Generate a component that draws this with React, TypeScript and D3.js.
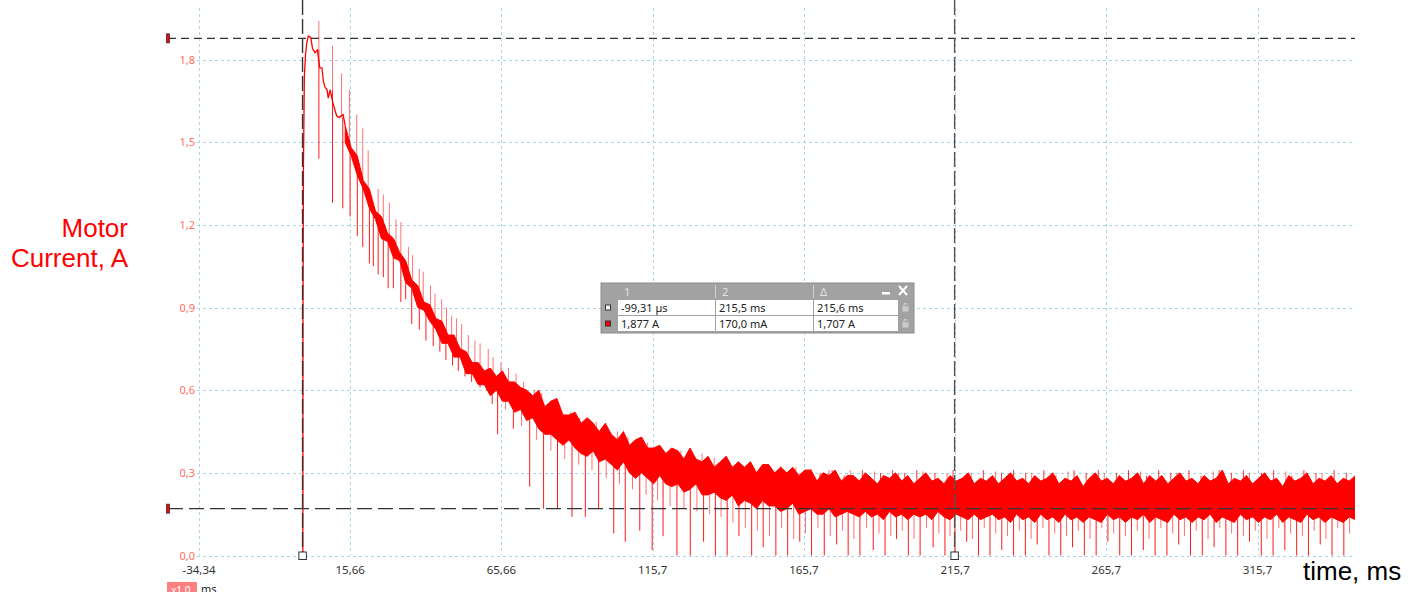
import React from 'react';
import * as d3 from 'd3';

// axes
const timeDomain: [number, number] = [-34.34, 346.9];
const currentDomain: [number, number] = [0, 1.987];
const xTicks = [-34.34, 15.66, 65.66, 115.66, 165.66, 215.66, 265.66, 315.66];
const xTickLabels = ['-34,34', '15,66', '65,66', '115,7', '165,7', '215,7', '265,7', '315,7'];
const yTicks = [0, 0.3, 0.6, 0.9, 1.2, 1.5, 1.8];
const yTickLabels = ['0,0', '0,3', '0,6', '0,9', '1,2', '1,5', '1,8'];

// cursors (time in ms, current in A)
const cursorTimes = [-0.09931, 215.5];
const cursorCurrents = [1.877, 0.17];

// start-up of the motor, [ms, A]
const onset: [number, number][] = [
  [0, 0], [0.05, 0.9], [0.2, 1.42], [0.5, 1.74], [0.9, 1.82], [1.3, 1.86], [1.8, 1.885],
  [2.6, 1.88], [3.2, 1.84], [4.0, 1.825], [4.8, 1.835], [5.6, 1.77], [6.3, 1.77], [6.8, 1.72],
  [7.3, 1.7], [8.0, 1.69], [8.4, 1.66], [9.0, 1.69], [10.0, 1.64], [11.2, 1.595], [12.0, 1.59],
  [13.3, 1.6], [14.0, 1.56],
];

// dense noise band, one sample every 2 ms from 14 ms
const bandStartMs = 14;
const bandStepMs = 2;
const bandHi = [
  1.56, 1.48, 1.45, 1.36, 1.33, 1.25, 1.23, 1.17, 1.15, 1.10,
  1.07, 1.00, 0.98, 0.92, 0.91, 0.86, 0.85, 0.80, 0.80, 0.75,
  0.74, 0.70, 0.70, 0.67, 0.68, 0.65, 0.67, 0.63, 0.63, 0.61,
  0.60, 0.58, 0.60, 0.54, 0.56, 0.57, 0.51, 0.51, 0.52, 0.48,
  0.50, 0.48, 0.45, 0.48, 0.44, 0.42, 0.45, 0.40, 0.42, 0.43,
  0.39, 0.39, 0.40, 0.37, 0.39, 0.38, 0.35, 0.39, 0.35, 0.34,
  0.36, 0.32, 0.34, 0.36, 0.32, 0.34, 0.32, 0.34, 0.30, 0.33,
  0.33, 0.30, 0.32, 0.30, 0.32, 0.29, 0.31, 0.31, 0.27, 0.30,
  0.29, 0.31, 0.27, 0.29, 0.29, 0.27, 0.30, 0.28, 0.26, 0.29,
  0.28, 0.30, 0.27, 0.29, 0.26, 0.28, 0.30, 0.27, 0.28, 0.26,
  0.29, 0.27, 0.28, 0.30, 0.26, 0.28, 0.27, 0.29, 0.26, 0.28,
  0.30, 0.27, 0.28, 0.26, 0.29, 0.27, 0.28, 0.30, 0.26, 0.28,
  0.27, 0.29, 0.25, 0.28, 0.30, 0.27, 0.28, 0.26, 0.29, 0.27,
  0.28, 0.30, 0.26, 0.29, 0.27, 0.29, 0.26, 0.28, 0.30, 0.27,
  0.28, 0.26, 0.29, 0.27, 0.28, 0.31, 0.26, 0.28, 0.27, 0.29,
  0.26, 0.28, 0.30, 0.27, 0.28, 0.25, 0.29, 0.27, 0.28, 0.30,
  0.26, 0.28, 0.27, 0.29, 0.26, 0.28, 0.27, 0.29,
];
const bandLo = [
  1.50, 1.45, 1.38, 1.33, 1.26, 1.22, 1.15, 1.14, 1.08, 1.07,
  0.99, 0.97, 0.90, 0.89, 0.85, 0.82, 0.77, 0.77, 0.72, 0.72,
  0.66, 0.66, 0.62, 0.62, 0.58, 0.60, 0.56, 0.56, 0.52, 0.53,
  0.49, 0.50, 0.46, 0.44, 0.44, 0.42, 0.40, 0.42, 0.39, 0.37,
  0.36, 0.38, 0.34, 0.35, 0.33, 0.31, 0.34, 0.30, 0.28, 0.30,
  0.28, 0.26, 0.29, 0.26, 0.25, 0.26, 0.23, 0.24, 0.26, 0.22,
  0.22, 0.23, 0.21, 0.20, 0.22, 0.18, 0.20, 0.19, 0.17, 0.20,
  0.18, 0.18, 0.16, 0.17, 0.19, 0.15, 0.16, 0.17, 0.15, 0.15,
  0.17, 0.14, 0.15, 0.16, 0.15, 0.14, 0.16, 0.14, 0.15, 0.13,
  0.16, 0.14, 0.15, 0.13, 0.15, 0.14, 0.15, 0.13, 0.16, 0.14,
  0.13, 0.15, 0.14, 0.13, 0.15, 0.13, 0.14, 0.15, 0.13, 0.14,
  0.12, 0.15, 0.13, 0.14, 0.12, 0.15, 0.13, 0.14, 0.12, 0.15,
  0.13, 0.14, 0.12, 0.14, 0.13, 0.12, 0.15, 0.13, 0.14, 0.12,
  0.14, 0.13, 0.15, 0.12, 0.14, 0.13, 0.12, 0.15, 0.13, 0.14,
  0.12, 0.14, 0.13, 0.15, 0.12, 0.14, 0.13, 0.12, 0.15, 0.13,
  0.14, 0.12, 0.14, 0.13, 0.15, 0.12, 0.14, 0.13, 0.12, 0.15,
  0.13, 0.14, 0.12, 0.14, 0.13, 0.12, 0.14, 0.13,
];

// upward spikes [ms, A]
const spikes: [number, number][] = [
  [5.3, 1.94], [9.8, 1.85], [12.8, 1.75], [15.4, 1.69], [17.8, 1.6], [19.8, 1.55], [21.6, 1.47],
  [24.9, 1.33], [26.6, 1.31], [28.6, 1.28], [30.8, 1.22], [32.4, 1.21], [34.9, 1.12], [36.3, 1.09],
  [38.5, 1.04], [39.8, 1.03], [42.2, 0.98], [43.7, 0.95], [45.9, 0.93], [47.5, 0.9], [49.2, 0.87],
  [50.8, 0.86], [52.5, 0.84], [54.7, 0.8], [56.9, 0.78], [58.6, 0.77], [61.3, 0.75], [62.9, 0.72],
  [65.5, 0.7], [68.0, 0.68], [70.5, 0.66], [73.0, 0.63], [76.5, 0.6], [79.0, 0.59], [82.0, 0.56],
  [85.0, 0.54], [88.5, 0.52], [91.5, 0.5], [94.5, 0.49], [97.0, 0.485], [100.5, 0.47], [104.0, 0.45],
  [107.5, 0.43], [111.0, 0.42], [114.0, 0.41], [118.0, 0.4], [121.5, 0.39], [125.0, 0.38],
  [128.5, 0.37], [132.0, 0.37], [136.0, 0.355], [140.0, 0.345], [144.0, 0.34], [148.0, 0.335],
  [153.0, 0.33], [158.0, 0.325], [163.0, 0.32], [168.0, 0.315], [174.0, 0.31], [181.0, 0.31],
  [189.0, 0.305], [197.0, 0.3], [205.0, 0.305], [213.0, 0.3], [221.0, 0.3], [229.0, 0.305],
  [241.0, 0.3], [253.0, 0.305], [265.0, 0.3], [277.0, 0.305], [289.0, 0.3], [301.0, 0.305],
  [313.0, 0.3], [325.0, 0.305], [337.0, 0.3],
];

// smaller upward ticks on the top of the steady band [ms, A]
const minorSpikes: [number, number][] = [
  [151, 0.31], [155, 0.3], [161, 0.31], [165, 0.3], [171, 0.3], [175, 0.31], [179, 0.29],
  [185, 0.31], [191, 0.3], [195, 0.31], [199, 0.3], [203, 0.31], [209, 0.3], [215, 0.31],
  [219, 0.29], [225, 0.31], [231, 0.3], [235, 0.31], [239, 0.3], [245, 0.31], [249, 0.29],
  [255, 0.31], [259, 0.3], [263, 0.31], [269, 0.3], [273, 0.31], [279, 0.29], [283, 0.31],
  [287, 0.3], [293, 0.31], [297, 0.29], [303, 0.31], [307, 0.3], [311, 0.31], [317, 0.3],
  [321, 0.31], [327, 0.29], [331, 0.31], [335, 0.3], [341, 0.31], [345, 0.3],
];

// deep commutation dips [ms, A]
const dips: [number, number][] = [
  [5.3, 1.44], [9.8, 1.28], [13.2, 1.26], [15.6, 1.23], [18.0, 1.16], [19.8, 1.12], [22.0, 1.06],
  [23.3, 1.05], [24.9, 1.02], [26.6, 1.01], [28.2, 0.97], [29.9, 0.97], [32.4, 0.92], [34.0, 0.93],
  [36.0, 0.84], [38.5, 0.82], [40.7, 0.78], [43.1, 0.76], [45.3, 0.74], [47.3, 0.71], [49.5, 0.69],
  [51.4, 0.67], [53.6, 0.65], [55.8, 0.63], [58.6, 0.61], [60.8, 0.6], [62.6, 0.55], [64.4, 0.44],
  [69.6, 0.46], [75.0, 0.25], [79.6, 0.17], [84.2, 0.17], [89.0, 0.14], [93.4, 0.14], [97.8, 0.17],
  [102.8, 0.08], [106.6, 0.05], [111.4, 0.09], [115.5, 0.02], [119.1, 0.07], [123.7, 0], [128.1, 0],
  [132.5, 0.05], [136.4, 0], [140.3, 0], [144.2, 0.07], [148.4, 0], [152.2, 0.03], [156.4, 0],
  [160.3, 0], [164.3, 0.05], [168.2, 0], [172.4, 0], [176.5, 0.04], [180.3, 0], [184.2, 0],
  [188.6, 0.02], [192.5, 0], [196.3, 0.06], [200.2, 0], [204.1, 0], [208.4, 0.03], [212.3, 0],
  [215.6, 0], [219.5, 0.05], [223.4, 0], [227.2, 0], [231.1, 0.02], [235.0, 0], [238.9, 0],
  [242.8, 0.04], [246.7, 0], [250.6, 0], [254.5, 0.03], [258.4, 0], [262.3, 0], [266.2, 0.05],
  [270.1, 0], [274.0, 0], [277.9, 0.02], [281.8, 0], [285.7, 0], [289.6, 0.04], [293.5, 0],
  [297.4, 0], [301.3, 0.03], [305.2, 0], [309.1, 0], [313.0, 0.05], [316.9, 0], [320.8, 0],
  [324.7, 0.02], [328.6, 0], [332.5, 0], [336.4, 0.04], [340.3, 0], [344.2, 0],
];

// shallower dips between them [ms, A]
const minorDips: [number, number][] = [
  [67.0, 0.53], [72.3, 0.47], [77.3, 0.42], [82.0, 0.38], [86.6, 0.35], [91.2, 0.33], [95.6, 0.31],
  [100.3, 0.28], [104.7, 0.26], [109.0, 0.24], [113.5, 0.22], [117.3, 0.2], [121.4, 0.18],
  [126.0, 0.17], [130.3, 0.16], [134.5, 0.15], [138.3, 0.14], [142.2, 0.12], [146.3, 0.1],
  [150.3, 0.09], [154.3, 0.07], [158.3, 0.1], [162.3, 0.06], [166.2, 0.08], [170.3, 0.1],
  [174.4, 0.07], [178.4, 0.09], [182.2, 0.06], [186.4, 0.1], [190.5, 0.08], [194.4, 0.07],
  [198.2, 0.09], [202.1, 0.06], [206.2, 0.1], [210.3, 0.08], [214.0, 0.07], [217.5, 0.09],
  [221.4, 0.06], [225.3, 0.1], [229.1, 0.08], [233.0, 0.07], [236.9, 0.09], [240.8, 0.06],
  [244.7, 0.1], [248.6, 0.08], [252.5, 0.07], [256.4, 0.09], [260.3, 0.06], [264.2, 0.1],
  [268.1, 0.08], [272.0, 0.07], [275.9, 0.09], [279.8, 0.06], [283.7, 0.1], [287.6, 0.08],
  [291.5, 0.07], [295.4, 0.09], [299.3, 0.06], [303.2, 0.1], [307.1, 0.08], [311.0, 0.07],
  [314.9, 0.09], [318.8, 0.06], [322.7, 0.1], [326.6, 0.08], [330.5, 0.07], [334.4, 0.09],
  [338.3, 0.06], [342.2, 0.1], [346.1, 0.08],
];

// cursor readout table
const tableHeader = ['1', '2', 'Δ'];
const tableRows = [
  ['-99,31 µs', '215,5 ms', '215,6 ms'],
  ['1,877 A', '170,0 mA', '1,707 A'],
];

const RED = '#ff0000';
const GRID = '#a9d6e6';

type BandPoint = { t: number; hi: number; lo: number };

export default function App() {
  const plot = { left: 199, right: 1352, top: 8, bottom: 555.5 };
  const x = d3.scaleLinear().domain(timeDomain).range([plot.left, plot.right]);
  const y = d3.scaleLinear().domain(currentDomain).range([plot.bottom, plot.top]);
  const px = (v: number) => Math.round(v) + 0.5;

  const band: BandPoint[] = bandHi.map((hi, i) => ({ t: bandStartMs + i * bandStepMs, hi, lo: bandLo[i] }));
  const area = d3.area<BandPoint>()
    .x(d => x(d.t))
    .y0(d => y(d.lo))
    .y1(d => y(d.hi));
  const onsetLine = d3.line<[number, number]>().x(d => x(d[0])).y(d => y(d[1]));

  // where the drawn trace sits at time t: root of spikes and dips
  const levelAt = (t: number, upper: boolean) => {
    if (t < bandStartMs) {
      let v = onset[0][1];
      for (const p of onset) if (p[0] <= t) v = p[1];
      return v;
    }
    const f = (t - bandStartMs) / bandStepMs;
    const i = Math.min(band.length - 2, Math.floor(f));
    const k = Math.min(1, f - i);
    const a = upper ? band[i].hi : band[i].lo;
    const b = upper ? band[i + 1].hi : band[i + 1].lo;
    return a + (b - a) * k;
  };

  const tableX = 601, tableY = 283;
  const colX = [618, 716, 814];
  const colW = [97, 97, 84];

  const ticks = (list: [number, number][], upper: boolean) =>
    list.map(([t, v], i) => (
      <line key={i} x1={x(t)} x2={x(t)} y1={y(levelAt(t, upper))} y2={y(v)} />
    ));

  return (
    <svg width={1417} height={592} style={{ position: 'absolute', left: 0, top: 0, background: '#fff' }}
      fontFamily="'Noto Sans', 'DejaVu Sans', sans-serif">
      <defs>
        <clipPath id="plotClip">
          <rect x={plot.left} y={0} width={plot.right - plot.left + 3} height={plot.bottom + 1} />
        </clipPath>
      </defs>

      {/* grid */}
      <g stroke={GRID} strokeWidth={1} strokeDasharray="3,3" fill="none">
        {yTicks.map(v => (
          <line key={'h' + v} x1={plot.left - 2} x2={plot.right} y1={px(y(v))} y2={px(y(v))} />
        ))}
        {xTicks.map(v => (
          <line key={'v' + v} x1={px(x(v))} x2={px(x(v))} y1={plot.top} y2={plot.bottom} />
        ))}
      </g>

      {/* trace */}
      <g clipPath="url(#plotClip)">
        <path d={area(band) || ''} fill={RED} stroke={RED} strokeWidth={1} strokeLinejoin="bevel" />
        <path d={onsetLine(onset) || ''} fill="none" stroke={RED} strokeWidth={1.3} />
        <g stroke={RED} strokeWidth={1} opacity={0.55}>
          {ticks(spikes, true)}
          {ticks(minorDips, false)}
        </g>
        <g stroke={RED} strokeWidth={1} opacity={0.8}>
          {ticks(minorSpikes, true)}
        </g>
        <g stroke={RED} strokeWidth={1} opacity={0.9}>
          {ticks(dips, false)}
        </g>
      </g>

      {/* cursors */}
      {cursorCurrents.map((v, i) => (
        <g key={'hc' + i}>
          <line x1={168} x2={1355} y1={y(v)} y2={y(v)} stroke="#333" strokeWidth={1.2}
            strokeDasharray={i === 0 ? '8,5' : '15,6'} />
          <rect x={166.5} y={y(v) - 4.5} width={3} height={9} fill={RED} stroke="#333" strokeWidth={0.8} />
        </g>
      ))}
      {cursorTimes.map((t, i) => (
        <g key={'vc' + i}>
          <line x1={x(t)} x2={x(t)} y1={0} y2={plot.bottom} stroke={i === 0 ? '#333' : '#555'}
            strokeWidth={1.4} strokeDasharray="15,4" />
          <rect x={x(t) - 3.7} y={552} width={7.5} height={7.5} fill="#fff" stroke="#333" strokeWidth={1} />
        </g>
      ))}

      {/* tick labels */}
      {yTicks.map((v, i) => (
        <text key={'yl' + v} x={195} y={y(v) + 4} textAnchor="end" fontSize={11} fill="#ff6f5f">
          {yTickLabels[i]}
        </text>
      ))}
      {xTicks.map((v, i) => (
        <text key={'xl' + v} x={x(v)} y={574} textAnchor="middle" fontSize={11.5} fill="#333">
          {xTickLabels[i]}
        </text>
      ))}

      {/* axis titles */}
      <g fontFamily="'Liberation Sans', Arial, sans-serif" fontSize={26}>
        <text x={128} y={237} textAnchor="end" fill={RED}>Motor</text>
        <text x={128} y={267} textAnchor="end" fill={RED}>Current, A</text>
        <text x={1303} y={580} fill="#000">time, ms</text>
      </g>

      {/* zoom badge, cut by the page edge as in the screenshot */}
      <rect x={167} y={582} width={30} height={14} fill="#ff8080" />
      <text x={171} y={594} fontSize={10} fill="#fff">x1,0</text>
      <text x={201} y={593} fontSize={11} fill="#222">ms</text>

      {/* readout table */}
      <g fontSize={11}>
        <rect x={tableX} y={tableY} width={313} height={50} fill="#a2a2a2" stroke="#8c8c8c" />
        {tableHeader.map((h, i) => (
          <g key={'th' + i}>
            <text x={colX[i] + 6} y={tableY + 12.5} fill="#e2e2e2">{h}</text>
            {i > 0 && <line x1={colX[i] - 0.5} x2={colX[i] - 0.5} y1={tableY + 2} y2={tableY + 15} stroke="#d0d0d0" />}
          </g>
        ))}
        <rect x={882} y={tableY + 9} width={8} height={2.5} fill="#fff" />
        <path d={`M899,${tableY + 3}L907,${tableY + 12}M907,${tableY + 3}L899,${tableY + 12}`} stroke="#fff" strokeWidth={2} />
        {tableRows.map((row, r) => {
          const ry = tableY + 17 + r * 16;
          return (
            <g key={'tr' + r}>
              <rect x={605.5} y={ry + 5} width={5} height={5} fill={r === 0 ? '#fff' : RED} stroke="#333" strokeWidth={1} />
              {row.map((cell, c) => (
                <g key={c}>
                  <rect x={colX[c]} y={ry} width={colW[c]} height={15} fill="#fff" />
                  <text x={colX[c] + 3} y={ry + 12} fill="#222">{cell}</text>
                </g>
              ))}
              <g fill="none" stroke="#cacaca" strokeWidth={1.2}>
                <rect x={903} y={ry + 7} width={5} height={4} fill="#cacaca" />
                <path d={`M904,${ry + 7}V${ry + 5}a1.6,1.6 0 0 1 3.2,0`} />
              </g>
            </g>
          );
        })}
      </g>
    </svg>
  );
}
